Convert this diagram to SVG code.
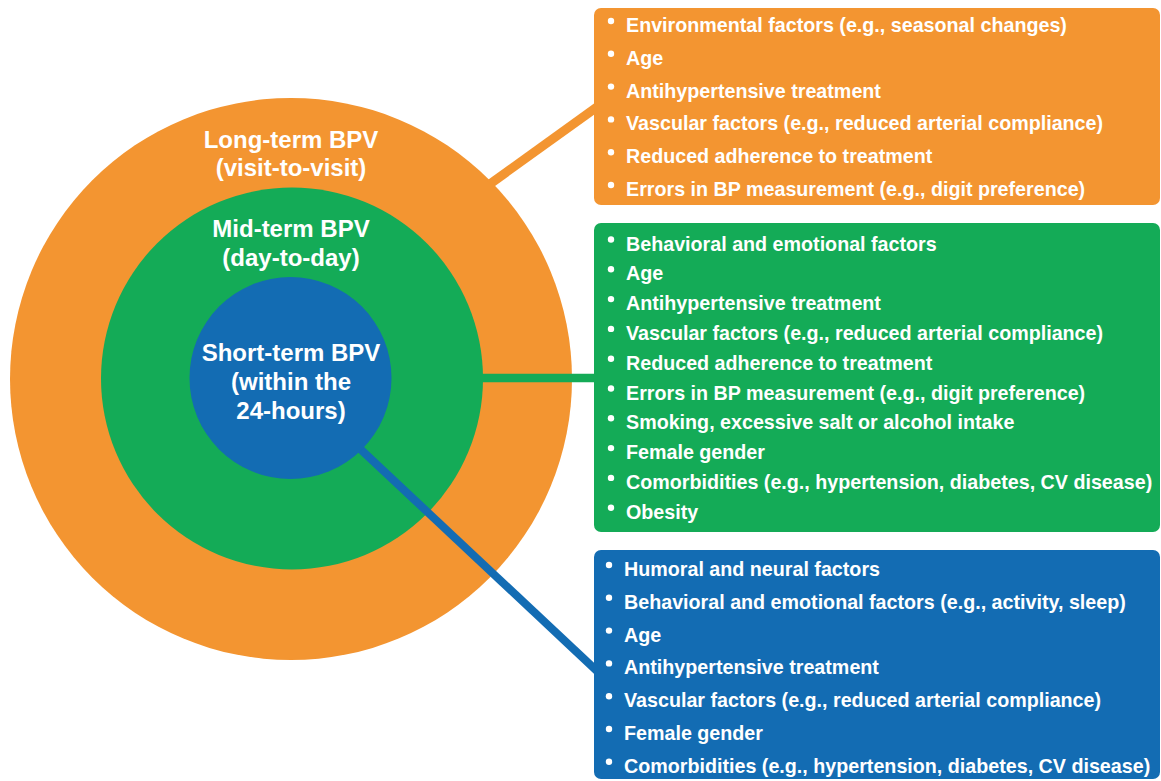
<svg xmlns="http://www.w3.org/2000/svg" width="1161" height="781" viewBox="0 0 1161 781">
<style>
.t{font-family:"Liberation Sans",Arial,sans-serif;font-weight:bold;fill:#fff}
.c{font-size:24px;text-anchor:middle}
.i{font-size:19.7px}
.b{fill:#fff}
</style>
<rect width="1161" height="781" fill="#fff"/>
<g id="long-term">
<circle cx="291" cy="379" r="281" fill="#F39531"/>
<text class="t c" x="291" y="148">Long-term BPV</text>
<text class="t c" x="291" y="176">(visit-to-visit)</text>
</g>
<g id="mid-term">
<circle cx="292" cy="378.5" r="191" fill="#14AB57"/>
<text class="t c" x="291" y="237">Mid-term BPV</text>
<text class="t c" x="291" y="266">(day-to-day)</text>
</g>
<g id="connectors">
<line x1="490" y1="184" x2="597" y2="107" stroke="#F39531" stroke-width="9"/>
<line x1="482" y1="378" x2="597" y2="378" stroke="#14AB57" stroke-width="8.5"/>
<line x1="340" y1="430" x2="598" y2="672" stroke="#136CB3" stroke-width="8"/>
</g>
<g id="short-term">
<circle cx="290.5" cy="378" r="101" fill="#136CB3"/>
<text class="t c" x="291" y="361">Short-term BPV</text>
<text class="t c" x="291" y="390">(within the</text>
<text class="t c" x="291" y="419">24-hours)</text>
</g>
<g id="long-term-factors">
<rect x="594" y="8" width="566" height="197" rx="7" fill="#F39531"/>
<g class="b">
<circle cx="611" cy="21" r="3.2"/><circle cx="611" cy="53.8" r="3.2"/><circle cx="611" cy="86.6" r="3.2"/><circle cx="611" cy="119.4" r="3.2"/><circle cx="611" cy="152.2" r="3.2"/><circle cx="611" cy="185" r="3.2"/>
</g>
<text class="t i" x="626" y="32">Environmental factors (e.g., seasonal changes)</text>
<text class="t i" x="626" y="64.8">Age</text>
<text class="t i" x="626" y="97.6">Antihypertensive treatment</text>
<text class="t i" x="626" y="130.4">Vascular factors (e.g., reduced arterial compliance)</text>
<text class="t i" x="626" y="163.2">Reduced adherence to treatment</text>
<text class="t i" x="626" y="196">Errors in BP measurement (e.g., digit preference)</text>
</g>
<g id="mid-term-factors">
<rect x="594" y="223" width="566" height="309" rx="7" fill="#14AB57"/>
<g class="b">
<circle cx="611" cy="239.5" r="3.2"/><circle cx="611" cy="269.3" r="3.2"/><circle cx="611" cy="299.1" r="3.2"/><circle cx="611" cy="328.9" r="3.2"/><circle cx="611" cy="358.7" r="3.2"/><circle cx="611" cy="388.5" r="3.2"/><circle cx="611" cy="418.3" r="3.2"/><circle cx="611" cy="448.1" r="3.2"/><circle cx="611" cy="477.9" r="3.2"/><circle cx="611" cy="507.7" r="3.2"/>
</g>
<text class="t i" x="626" y="250.5">Behavioral and emotional factors</text>
<text class="t i" x="626" y="280.3">Age</text>
<text class="t i" x="626" y="310.1">Antihypertensive treatment</text>
<text class="t i" x="626" y="339.9">Vascular factors (e.g., reduced arterial compliance)</text>
<text class="t i" x="626" y="369.7">Reduced adherence to treatment</text>
<text class="t i" x="626" y="399.5">Errors in BP measurement (e.g., digit preference)</text>
<text class="t i" x="626" y="429.3">Smoking, excessive salt or alcohol intake</text>
<text class="t i" x="626" y="459.1">Female gender</text>
<text class="t i" x="626" y="488.9">Comorbidities (e.g., hypertension, diabetes, CV disease)</text>
<text class="t i" x="626" y="518.7">Obesity</text>
</g>
<g id="short-term-factors">
<rect x="594" y="550" width="566" height="229" rx="7" fill="#136CB3"/>
<g class="b">
<circle cx="609" cy="565" r="3.2"/><circle cx="609" cy="597.8" r="3.2"/><circle cx="609" cy="630.6" r="3.2"/><circle cx="609" cy="663.4" r="3.2"/><circle cx="609" cy="696.2" r="3.2"/><circle cx="609" cy="729" r="3.2"/><circle cx="609" cy="761.8" r="3.2"/>
</g>
<text class="t i" x="624" y="576">Humoral and neural factors</text>
<text class="t i" x="624" y="608.8">Behavioral and emotional factors (e.g., activity, sleep)</text>
<text class="t i" x="624" y="641.6">Age</text>
<text class="t i" x="624" y="674.4">Antihypertensive treatment</text>
<text class="t i" x="624" y="707.2">Vascular factors (e.g., reduced arterial compliance)</text>
<text class="t i" x="624" y="740">Female gender</text>
<text class="t i" x="624" y="772.8">Comorbidities (e.g., hypertension, diabetes, CV disease)</text>
</g>
</svg>
